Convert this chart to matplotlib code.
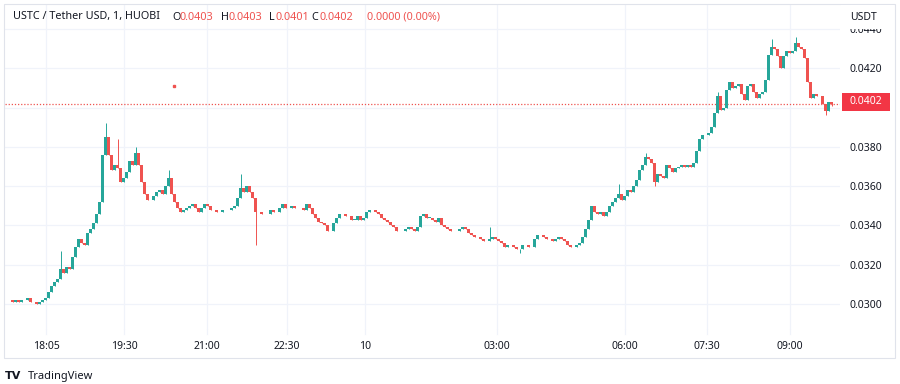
import numpy as np
import matplotlib
matplotlib.use('Agg')
import matplotlib.pyplot as plt
from matplotlib.patches import Rectangle

## USTC / USDT 1-minute candles.
## Prices are kept in ticks of 0.0001 (302 -> 0.0302), one close per bar.
closes = [
    302, 302, 301, 302, 301, 302, 302, 303, 301, 301,
    300, 301, 302, 303, 306, 309, 311, 313, 318, 316,
    319, 318, 324, 329, 333, 331, 330, 336, 338, 341,
    346, 352, 376, 385, 376, 368, 371, 369, 362, 364,
    367, 373, 371, 377, 371, 362, 356, 353, 353, 355,
    357, 358, 356, 360, 364, 356, 352, 349, 347, 348,
    349, 350, 351, 349, 347, 349, 351, 350, 348, 348,
    347, 347, 348, 348, 348, 349, 350, 354, 359, 357,
    360, 357, 354, 347, 347, 346, 346, 346, 348, 347,
    347, 349, 351, 349, 349, 350, 349, 349, 349, 348,
    351, 349, 346, 344, 342, 341, 340, 337, 337, 341,
    344, 346, 346, 345, 345, 343, 343, 345, 343, 344,
    347, 348, 348, 347, 346, 344, 343, 342, 340, 339,
    337, 337, 337, 338, 339, 338, 337, 339, 345, 346,
    344, 344, 343, 342, 344, 340, 339, 338, 337, 337,
    337, 338, 339, 338, 336, 335, 334, 334, 333, 332,
    332, 333, 334, 333, 332, 331, 329, 330, 330, 329,
    328, 328, 330, 330, 329, 329, 333, 335, 335, 334,
    333, 333, 332, 333, 334, 333, 332, 330, 329, 329,
    330, 331, 334, 338, 343, 350, 347, 346, 347, 345,
    347, 350, 352, 354, 356, 353, 355, 358, 357, 360,
    363, 368, 371, 375, 374, 372, 362, 366, 365, 364,
    371, 369, 367, 369, 370, 371, 370, 371, 370, 372,
    378, 384, 386, 386, 387, 390, 397, 406, 399, 400,
    409, 413, 410, 411, 412, 407, 404, 411, 412, 408,
    405, 407, 408, 414, 427, 431, 430, 426, 420, 426,
    429, 428, 429, 433, 431, 430, 425, 413, 405, 407,
    406, 406, 402, 398, 403, 402,
]

## long wicks (bar index -> tick)
wick_high = {18: 327, 33: 392, 37: 384, 43: 380, 54: 368, 78: 366, 161: 339,
             204: 361, 213: 377, 237: 408, 255: 435, 263: 436}
wick_low = {83: 330, 171: 326, 216: 360, 273: 396, 275: 401}

time_labels = ['18:05', '19:30', '21:00', '22:30', '10', '03:00', '06:00', '07:30', '09:00']
time_ticks = [13.2, 39.2, 66.8, 93.5, 119.5, 163.5, 206.2, 233.5, 261.2]

price_ticks = [0.030, 0.032, 0.034, 0.036, 0.038, 0.040, 0.042, 0.044]
last_price = 0.0402

marker_x = [55.8]
marker_p = [0.0411]

UP = '#26a69a'
DOWN = '#ef5350'
TXT = '#131722'
GRID = '#f0f3fa'
FONT = 'Noto Sans'

c = np.array(closes) / 10000.0
o = np.concatenate([[c[0]], c[:-1]])
hi = np.maximum(o, c)
lo = np.minimum(o, c)
for k, v in wick_high.items():
    hi[k] = v / 10000.0
for k, v in wick_low.items():
    lo[k] = v / 10000.0
x = np.arange(len(c))
colors = [UP if cc >= oo else DOWN for oo, cc in zip(o, c)]

W, H = 900, 384
fig = plt.figure(figsize=(9, 3.84), dpi=100)
fig.patch.set_facecolor('white')

## plot area in pixels: x 5..840, y 4..330
ax = fig.add_axes([5 / W, 1 - 330 / H, 835 / W, 326 / H])
for s in ax.spines.values():
    s.set_visible(False)

ax.set_xlim(-0.5, -0.5 + 835 / 3)
ax.set_ylim(0.02868, 0.04527)

ax.vlines(x, lo, hi, colors=colors, linewidth=0.7, zorder=3)
body = np.maximum(np.abs(c - o), 0.000006)
ax.bar(x, body, bottom=np.minimum(o, c), width=0.72, color=colors,
       linewidth=0, zorder=4)

ax.plot(marker_x, marker_p, 's', color=DOWN, markersize=1.8, zorder=5)

ax.axhline(last_price, color=DOWN, linestyle=(0, (1, 1.5)), linewidth=0.9, zorder=2)

## grid + ticks (0.0400 sits under the last-price label)
ax.set_xticks(time_ticks)
ax.set_xticklabels(time_labels)
ax.set_yticks(price_ticks)
ax.set_yticklabels(['' if abs(p - 0.040) < 1e-9 else '%.4f' % p for p in price_ticks])
ax.grid(True, color=GRID, linewidth=0.9, zorder=0)
ax.yaxis.tick_right()
ax.tick_params(axis='y', length=0, pad=7, labelsize=7.5, labelcolor=TXT)
ax.tick_params(axis='x', length=0, pad=8, labelsize=7.5, labelcolor=TXT)
for t in ax.get_xticklabels() + ax.get_yticklabels():
    t.set_fontfamily(FONT)

## grid lines run a bit into the time axis strip
for t in time_ticks:
    ax.plot([t, t], [0.02868, 0.02868 - 0.0002], color=GRID, linewidth=0.9,
            clip_on=False, zorder=0)

## outer frame
fig.patches.append(Rectangle((4 / W, 1 - 358 / H), 891 / W, 354 / H,
                             transform=fig.transFigure, fill=False,
                             edgecolor='#e0e3eb', linewidth=0.8, zorder=1))

## white cover at top of price scale + currency
fig.patches.append(Rectangle((841 / W, 1 - 28.5 / H), 53 / W, 24 / H,
                             transform=fig.transFigure, facecolor='white',
                             edgecolor='none', zorder=2))
fig.text(850 / W, 1 - 17 / H, 'USDT', fontsize=7.5, color=TXT, family=FONT,
         va='center', ha='left', zorder=3)

## last price label
fig.patches.append(Rectangle((842 / W, 1 - 111 / H), 48 / W, 18 / H,
                             transform=fig.transFigure, facecolor='#f23645',
                             edgecolor='none', zorder=2))
fig.text(866 / W, 1 - 102 / H, '%.4f' % last_price, fontsize=7.5, color='white',
         family=FONT, va='center', ha='center', zorder=3)

## header
ty = 1 - 17 / H
fig.text(13 / W, ty, 'USTC / Tether USD, 1, HUOBI', fontsize=7.8, color=TXT,
         family=FONT, va='center')
header = [(172, 'O', TXT), (179, '0.0403', DOWN), (221, 'H', TXT), (228, '0.0403', DOWN),
          (269, 'L', TXT), (275, '0.0401', DOWN), (311, 'C', TXT), (319, '0.0402', DOWN),
          (367, '0.0000 (0.00%)', DOWN)]
for px, s, col in header:
    fig.text(px / W, ty, s, fontsize=7.8, color=col, family=FONT, va='center')

## logo
fig.text(5 / W, 1 - 376 / H, 'TV', fontsize=8, color=TXT, family='DejaVu Sans',
         weight='bold', va='center')
fig.text(28 / W, 1 - 376 / H, 'TradingView', fontsize=8, color=TXT, family=FONT,
         va='center')

fig.savefig('out.png', dpi=100, facecolor='white')
